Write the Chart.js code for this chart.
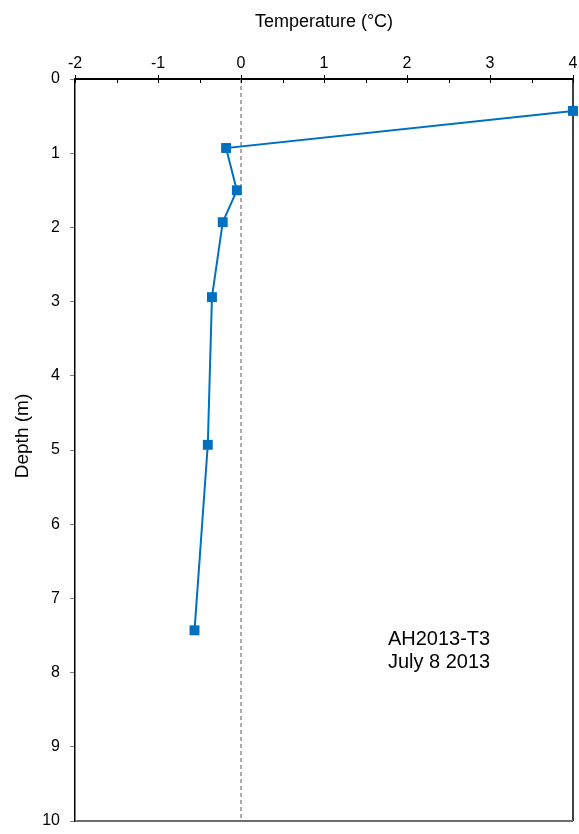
<!DOCTYPE html>
<html>
<head>
<meta charset="utf-8">
<script src="https://cdn.jsdelivr.net/npm/chart.js@4/dist/chart.umd.min.js"></script>
<style>
  html, body { margin: 0; padding: 0; background: #fff; }
  #wrap { width: 579px; height: 834px; }
</style>
</head>
<body>
<div id="wrap"><canvas id="c" width="579" height="834"></canvas></div>
<script>
// Data
const temperatures = [4.0, -0.18, -0.05, -0.22, -0.35, -0.40, -0.56];
const depths = [0.43, 0.93, 1.50, 1.93, 2.94, 4.93, 7.43];
const xTickRange = { min: -2, max: 4, step: 1, minorStep: 0.5 };
const yTickRange = { min: 0, max: 10, step: 1 };
const annotationLines = ['AH2013-T3', 'July 8 2013'];
const annotationAt = { x: 1.77, y: 7.56 };

const FONT = '"Liberation Sans", Arial, sans-serif';
const LINE_COLOR = '#0070C0';

const points = temperatures.map((t, i) => ({ x: t, y: depths[i] }));

const extras = {
  id: 'extras',
  beforeDatasetsDraw(chart) {
    const { ctx, chartArea: a, scales: { x, y } } = chart;
    ctx.save();
    // dashed zero line
    const x0 = x.getPixelForValue(0);
    ctx.strokeStyle = '#808080';
    ctx.lineWidth = 1.3;
    ctx.setLineDash([4, 3]);
    ctx.beginPath();
    ctx.moveTo(x0, a.top);
    ctx.lineTo(x0, a.bottom);
    ctx.stroke();
    ctx.setLineDash([]);
    // right border
    ctx.strokeStyle = '#000';
    ctx.lineWidth = 1.5;
    ctx.beginPath();
    ctx.moveTo(a.right, a.top);
    ctx.lineTo(a.right, a.bottom);
    ctx.stroke();
    // bottom border
    ctx.strokeStyle = '#6e6e6e';
    ctx.lineWidth = 2;
    ctx.beginPath();
    ctx.moveTo(a.left, a.bottom);
    ctx.lineTo(a.right, a.bottom);
    ctx.stroke();
    // inner ticks on top axis (major + minor)
    ctx.strokeStyle = '#000';
    ctx.lineWidth = 1;
    for (let v = xTickRange.min; v <= xTickRange.max + 1e-9; v += xTickRange.minorStep) {
      const px = Math.round(x.getPixelForValue(v)) + 0.5;
      ctx.beginPath();
      ctx.moveTo(px, a.top);
      ctx.lineTo(px, a.top + 4);
      ctx.stroke();
    }
    ctx.restore();
  },
  afterDraw(chart) {
    const { ctx, chartArea: a, scales: { x, y } } = chart;
    ctx.save();
    // annotation
    ctx.fillStyle = '#000';
    ctx.font = '20px ' + FONT;
    ctx.textAlign = 'left';
    ctx.textBaseline = 'middle';
    const ax = x.getPixelForValue(annotationAt.x);
    const ay = y.getPixelForValue(annotationAt.y);
    annotationLines.forEach((s, i) => ctx.fillText(s, ax, ay + i * 23));
    // y-axis title
    ctx.font = '19px ' + FONT;
    ctx.translate(23, (a.top + a.bottom) / 2 - 14);
    ctx.rotate(-Math.PI / 2);
    ctx.textAlign = 'center';
    ctx.fillText('Depth (m)', 0, 0);
    ctx.restore();
  }
};

new Chart(document.getElementById('c'), {
  type: 'scatter',
  data: {
    datasets: [{
      data: points,
      showLine: true,
      borderColor: LINE_COLOR,
      backgroundColor: LINE_COLOR,
      borderWidth: 2,
      pointStyle: 'rect',
      pointRadius: 7,
      pointHoverRadius: 7,
      pointBorderWidth: 0,
      tension: 0,
      clip: false
    }]
  },
  options: {
    responsive: false,
    animation: false,
    devicePixelRatio: 1,
    layout: { autoPadding: false, padding: { left: 0, right: 6, top: 0, bottom: 13 } },
    plugins: { legend: { display: false }, tooltip: { enabled: false } },
    scales: {
      x: {
        type: 'linear',
        position: 'top',
        min: xTickRange.min,
        max: xTickRange.max,
        ticks: {
          stepSize: xTickRange.step,
          color: '#000',
          font: { family: FONT, size: 16 },
          padding: 2
        },
        grid: {
          drawOnChartArea: false,
          drawTicks: true,
          tickLength: 4,
          color: '#000'
        },
        border: { display: true, color: '#000', width: 2 },
        title: {
          display: true,
          text: 'Temperature (°C)',
          color: '#000',
          font: { family: FONT, size: 18 },
          padding: { top: 11, bottom: 6 }
        },
        afterFit(scale) { scale.height = 79; scale.paddingLeft = 0; scale.paddingRight = 0; }
      },
      y: {
        type: 'linear',
        reverse: true,
        min: yTickRange.min,
        max: yTickRange.max,
        ticks: {
          stepSize: yTickRange.step,
          color: '#000',
          font: { family: FONT, size: 16 },
          padding: 10
        },
        grid: {
          drawOnChartArea: false,
          drawTicks: true,
          tickLength: 5,
          color: '#808080'
        },
        border: { display: true, color: '#000', width: 1.5 },
        afterFit(scale) { scale.width = 75; scale.paddingTop = 0; scale.paddingBottom = 0; }
      }
    }
  },
  plugins: [extras]
});
</script>
</body>
</html>
